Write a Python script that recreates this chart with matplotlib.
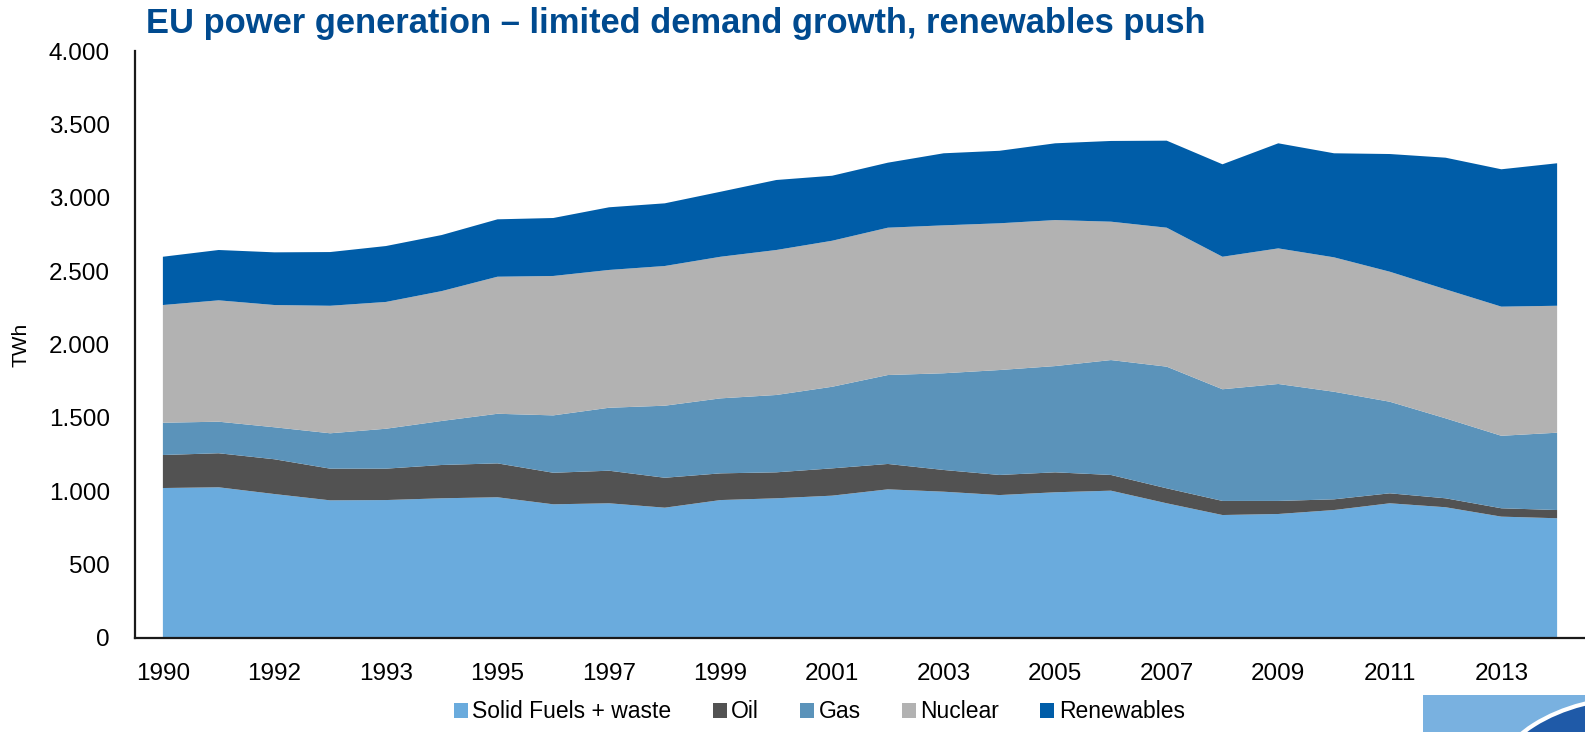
import numpy as np
import matplotlib.pyplot as plt
from matplotlib.patches import Patch, Rectangle, Ellipse
from matplotlib.ticker import FuncFormatter

plt.rcParams['font.family'] = ['Liberation Sans', 'DejaVu Sans']

# Category labels as they appear on the source axis (every other one is shown)
years = ['1990', '1991', '1992', '1992', '1993', '1994', '1995', '1996', '1997',
         '1998', '1999', '2000', '2001', '2002', '2003', '2004', '2005', '2006',
         '2007', '2008', '2009', '2010', '2011', '2012', '2013', '2014']

# Generation by source [TWh]
solid = [1022, 1027, 981, 938, 940, 952, 959, 911, 918, 888, 940, 952, 970,
         1013, 997, 974, 993, 1004, 918, 838, 845, 872, 918, 891, 827, 816]
oil = [225, 232, 237, 216, 214, 227, 231, 215, 222, 204, 182, 177, 186,
       173, 148, 137, 136, 107, 102, 96, 89, 73, 68, 61, 57, 56]
gas = [220, 215, 218, 241, 272, 300, 338, 391, 429, 491, 511, 527, 556,
       606, 659, 715, 724, 783, 829, 761, 797, 733, 624, 545, 494, 527]
nuclear = [802, 827, 833, 869, 864, 885, 934, 950, 939, 952, 965, 988, 995,
           1004, 1008, 1000, 995, 943, 947, 903, 924, 916, 886, 879, 880, 865]
renewables = [329, 343, 359, 366, 381, 382, 391, 395, 427, 427, 443, 477, 443,
              443, 491, 494, 523, 550, 593, 630, 716, 709, 802, 897, 936, 971]

labels = ['Solid Fuels + waste', 'Oil', 'Gas', 'Nuclear', 'Renewables']
colors = ['#6aabdd', '#525252', '#5b93ba', '#b2b2b2', '#005da8']

fig = plt.figure(figsize=(15.85, 7.32), dpi=100)
ax = fig.add_axes([135 / 1585, 1 - 638 / 732, 1 - 135 / 1585, (638 - 51) / 732])

x = np.arange(len(years))
ax.stackplot(x, solid, oil, gas, nuclear, renewables, colors=colors, linewidth=0)

ax.set_xlim(-0.5, len(years) - 0.5)
ax.set_ylim(0, 4000)
ax.set_yticks(np.arange(0, 4001, 500))
ax.yaxis.set_major_formatter(FuncFormatter(lambda v, p: f'{int(v):,}'.replace(',', '.')))
ax.set_xticks(x[::2])
ax.set_xticklabels(years[::2])
ax.tick_params(axis='both', length=0, labelsize=17.5, colors='black')
ax.tick_params(axis='x', pad=18)
ax.tick_params(axis='y', pad=18)
ax.set_ylabel('TWh', fontsize=15)
ax.yaxis.set_label_coords(-0.072, 0.5)

for side in ['top', 'right']:
    ax.spines[side].set_visible(False)
for side in ['left', 'bottom']:
    ax.spines[side].set_linewidth(1.6)
    ax.spines[side].set_color('#1a1a1a')

fig.text(146 / 1585, 1 - 33 / 732, 'EU power generation \u2013 limited demand growth, renewables push',
         fontsize=24.85, fontweight='bold', color='#004a8f', ha='left', va='baseline')

handles = [Patch(facecolor=c, edgecolor='none') for c in colors]
fig.legend(handles, labels, loc='center', bbox_to_anchor=(0.517, 1 - 712 / 732), ncol=5,
           frameon=False, fontsize=16.5, handlelength=0.6, handleheight=0.6,
           handletextpad=0.2, columnspacing=1.8, borderaxespad=0)

# Corner logo decoration
fig.patches.append(Rectangle((1423 / 1585, 0), 1 - 1423 / 1585, 37 / 732,
                             transform=fig.transFigure, facecolor='#79b1e0', edgecolor='none'))
fig.patches.append(Ellipse((1640 / 1585, -60 / 732), 300 / 1585, 190 / 732,
                           transform=fig.transFigure, facecolor='#1f5aa8',
                           edgecolor='white', linewidth=3))

fig.savefig('out.png', dpi=100)
